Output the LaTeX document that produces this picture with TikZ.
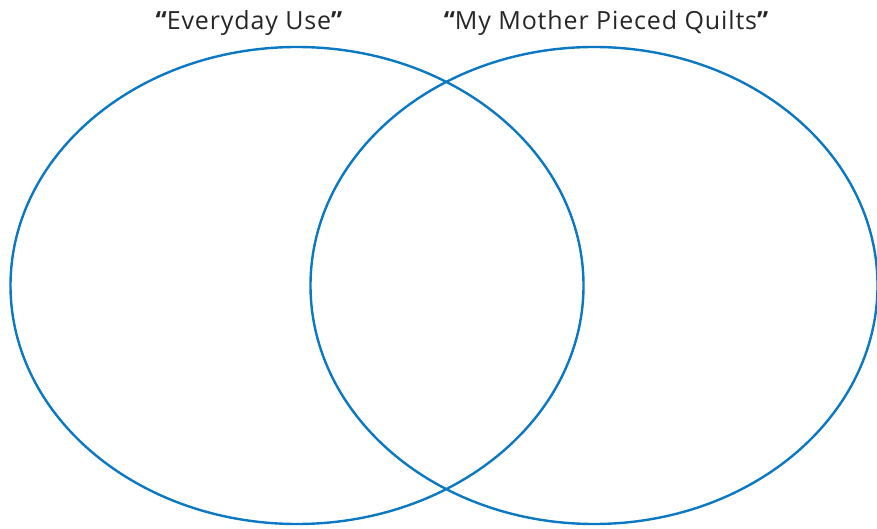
\documentclass[tikz,border=0pt]{standalone}
\usepackage{fontspec}
\setmainfont[LetterSpace=3.5]{Open Sans}
\definecolor{vennblue}{HTML}{0A78C2}
\newcommand{\openq}{{\bfseries “}}
\newcommand{\closeq}{{\bfseries ”}}
\begin{document}
\begin{tikzpicture}[x=1pt,y=-1pt,
  venn/.style={draw=vennblue,line width=2.4pt},
  title/.style={font=\fontsize{25}{29}\selectfont,text=black!85,anchor=base,inner sep=0pt}]
\useasboundingbox (0,0) rectangle (877,529);
\clip (0,0) rectangle (877,529);
\draw[venn] (297,285.5) ellipse [x radius=286.5, y radius=238.5];
\draw[venn] (594,285.5) ellipse [x radius=283.5, y radius=238.5];
\node[title] (t1) at (249,30) {\openq Everyday Use\closeq};
\node[title] (t2) at (606,30) {\openq My Mother Pieced Quilts\closeq};
\end{tikzpicture}
\end{document}
